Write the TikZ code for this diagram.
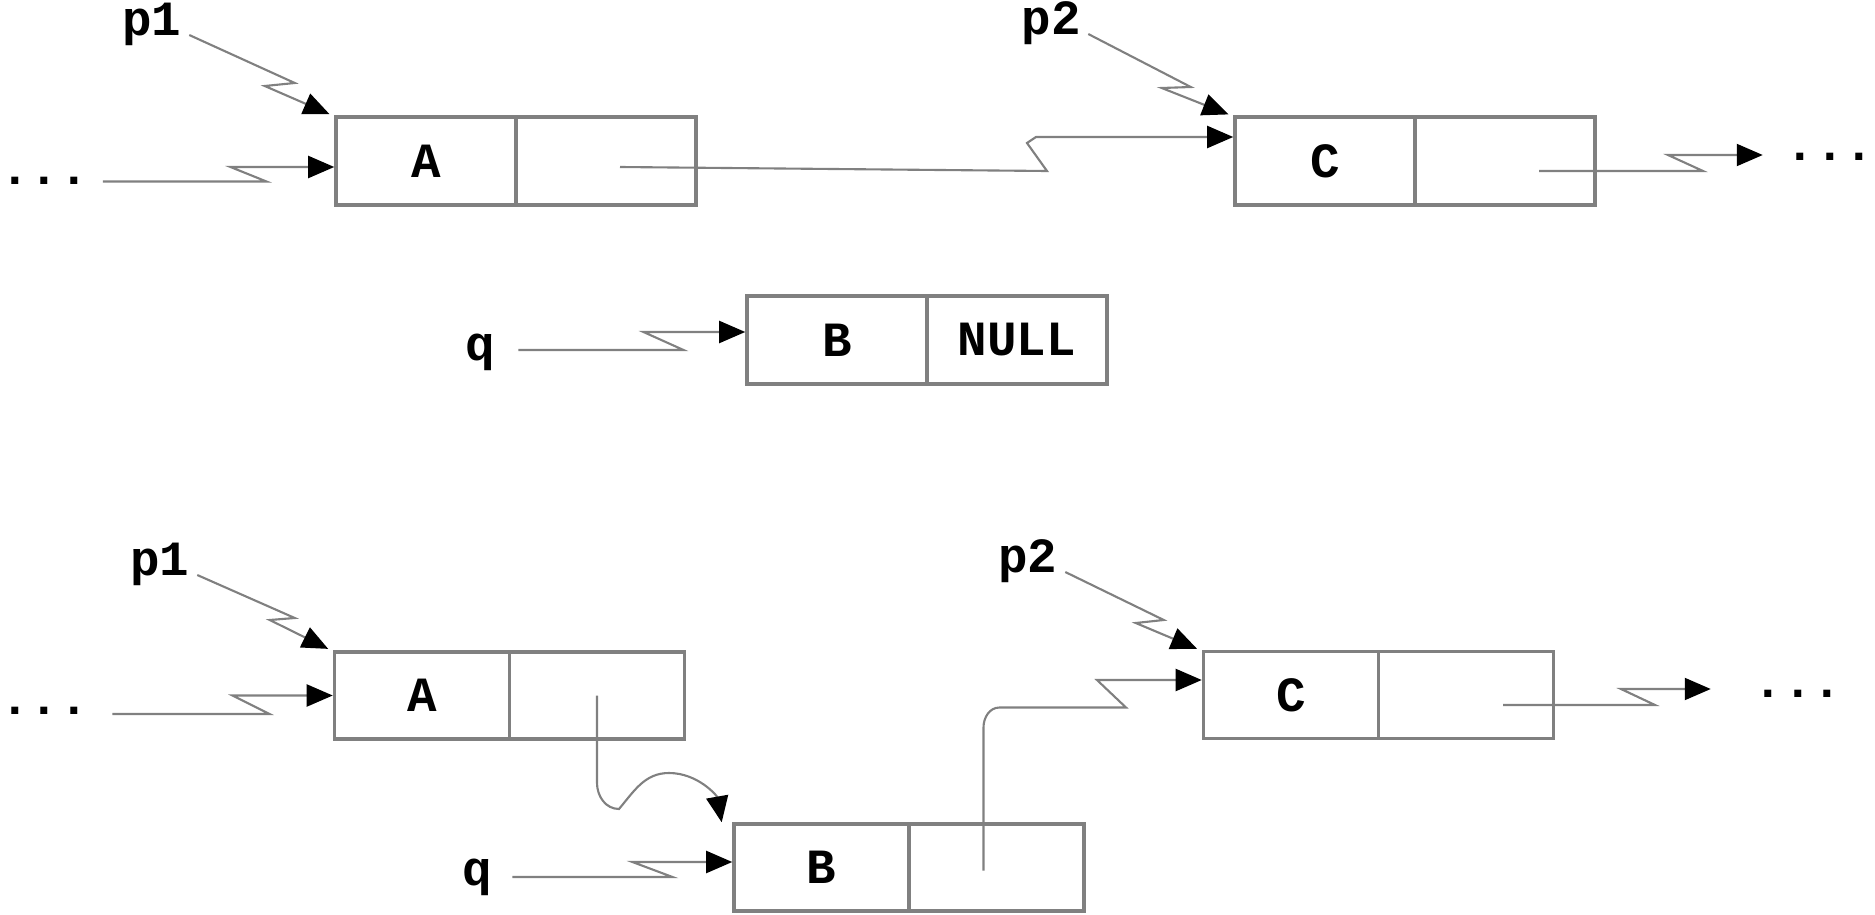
\documentclass[tikz,border=0pt]{standalone}
\usepackage{fontspec}
\usepackage{tikz}
\usetikzlibrary{arrows.meta,positioning}
\newfontfamily\codefont{Liberation Mono}
\newcommand{\listfont}{\codefont\bfseries\fontsize{14}{16}\selectfont}
\definecolor{linegray}{RGB}{128,128,128}

\begin{document}
\begin{tikzpicture}[
    cell/.style={rectangle, draw=linegray, line width=0.9pt, minimum width=1.8cm, minimum height=0.88cm,
                 inner sep=0pt, outer sep=0pt, font=\listfont},
    cellb/.style={cell, minimum width=1.75cm, minimum height=0.87cm},
    lbl/.style={inner sep=2pt, anchor=base, font=\listfont},
    dots/.style={lbl, inner sep=0pt},
    ptr/.style={-{Triangle[length=2.6mm, width=2.2mm, color=black]}, draw=linegray, line width=0.6pt, shorten >=0.5pt}]
\useasboundingbox (0,0) rectangle (18.75,9.14);
% before inserting B
\node[cell] (A1v) at (4.26,7.53) {A};
\node[cell, right=0pt of A1v] (A1n) {};
\node[cell] (C1v) at (13.25,7.53) {C};
\node[cell, right=0pt of C1v] (C1n) {};
\node[cell] (Bv) at (8.37,5.74) {B};
\node[cell, right=0pt of Bv] (Bn) {NULL};
\node[lbl] (p1a) at (1.52,8.79) {p1};
\node[lbl] (p2a) at (10.51,8.80) {p2};
\node[lbl] (qa) at (4.80,5.54) {q};
\node[dots] (dotsL1) at (0.445,7.295) {...};
\node[dots] (dotsR1) at (18.30,7.54) {...};
\draw[ptr] ([xshift=0.135cm,yshift=0.03cm]dotsL1.base east) -- ++(1.635,0) -- ++(-0.36,0.145) -- ([yshift=-0.06cm]A1v.west);
\draw[ptr, shorten >=2pt] (p1a.base east) -- ++(1.055,-0.48) -- ++(-0.30,-0.03) -- (A1v.north west);
\draw[ptr, shorten >=2pt] (p2a.base east) -- ++(1.025,-0.53) -- ++(-0.29,-0.01) -- (C1v.north west);
\draw[ptr] ([xshift=0.14cm,yshift=-0.06cm]A1n.center) -- ++(4.27,-0.04) -- ++(-0.2,0.28) -- ++(0.09,0.06) -- ([yshift=0.24cm]C1v.west);
\draw[ptr] ([xshift=0.34cm,yshift=-0.1cm]C1n.center) -- ++(1.64,0) -- ++(-0.35,0.16) -- ([xshift=-0.205cm,yshift=0.05cm]dotsR1.base west);
\draw[ptr] ([xshift=0.16cm,yshift=0.1cm]qa.base east) -- ++(1.65,0) -- ++(-0.40,0.18) -- ([yshift=0.08cm]Bv.west);
% after inserting B
\node[cellb] (A2v) at (4.22,2.185) {A};
\node[cellb, right=0pt of A2v] (A2n) {};
\node[cellb] (B2v) at (8.215,0.465) {B};
\node[cellb, right=0pt of B2v] (B2n) {};
\node[cellb] (C2v) at (12.91,2.19) {C};
\node[cellb, right=0pt of C2v] (C2n) {};
\node[lbl] (p1b) at (1.60,3.39) {p1};
\node[lbl] (p2b) at (10.28,3.42) {p2};
\node[lbl] (qb) at (4.77,0.29) {q};
\node[dots] (dotsL2) at (0.445,2.0) {...};
\node[dots] (dotsR2) at (17.98,2.165) {...};
\draw[ptr] ([xshift=0.23cm]dotsL2.base east) -- ++(1.57,0) -- ++(-0.37,0.185) -- (A2v.west);
\draw[ptr, shorten >=2pt] (p1b.base east) -- ++(0.975,-0.43) -- ++(-0.25,-0.02) -- (A2v.north west);
\draw[ptr, shorten >=2pt] (p2b.base east) -- ++(0.985,-0.48) -- ++(-0.28,-0.03) -- (C2v.north west);
\draw[ptr] (A2n.center) -- ++(0,-0.875) to[out=-90,in=180] ++(0.22,-0.26) to[out=50,in=180] ++(0.50,0.36)
    to[out=0,in=100] ([xshift=-0.12cm]B2v.north west);
\draw[ptr] ([xshift=-0.13cm,yshift=-0.03cm]B2n.center) -- ++(0,1.43) to[out=90,in=180] ++(0.16,0.2) -- ++(1.265,0)
    -- ++(-0.29,0.275) -- ([yshift=0.15cm]C2v.west);
\draw[ptr] ([xshift=0.37cm,yshift=-0.1cm]C2n.center) -- ++(1.52,0) -- ++(-0.34,0.16) -- ([xshift=-0.405cm,yshift=0.085cm]dotsR2.base west);
\draw[ptr] ([xshift=0.13cm,yshift=0.08cm]qb.base east) -- ++(1.60,0) -- ++(-0.40,0.15) -- ([yshift=0.055cm]B2v.west);
\end{tikzpicture}
\end{document}
